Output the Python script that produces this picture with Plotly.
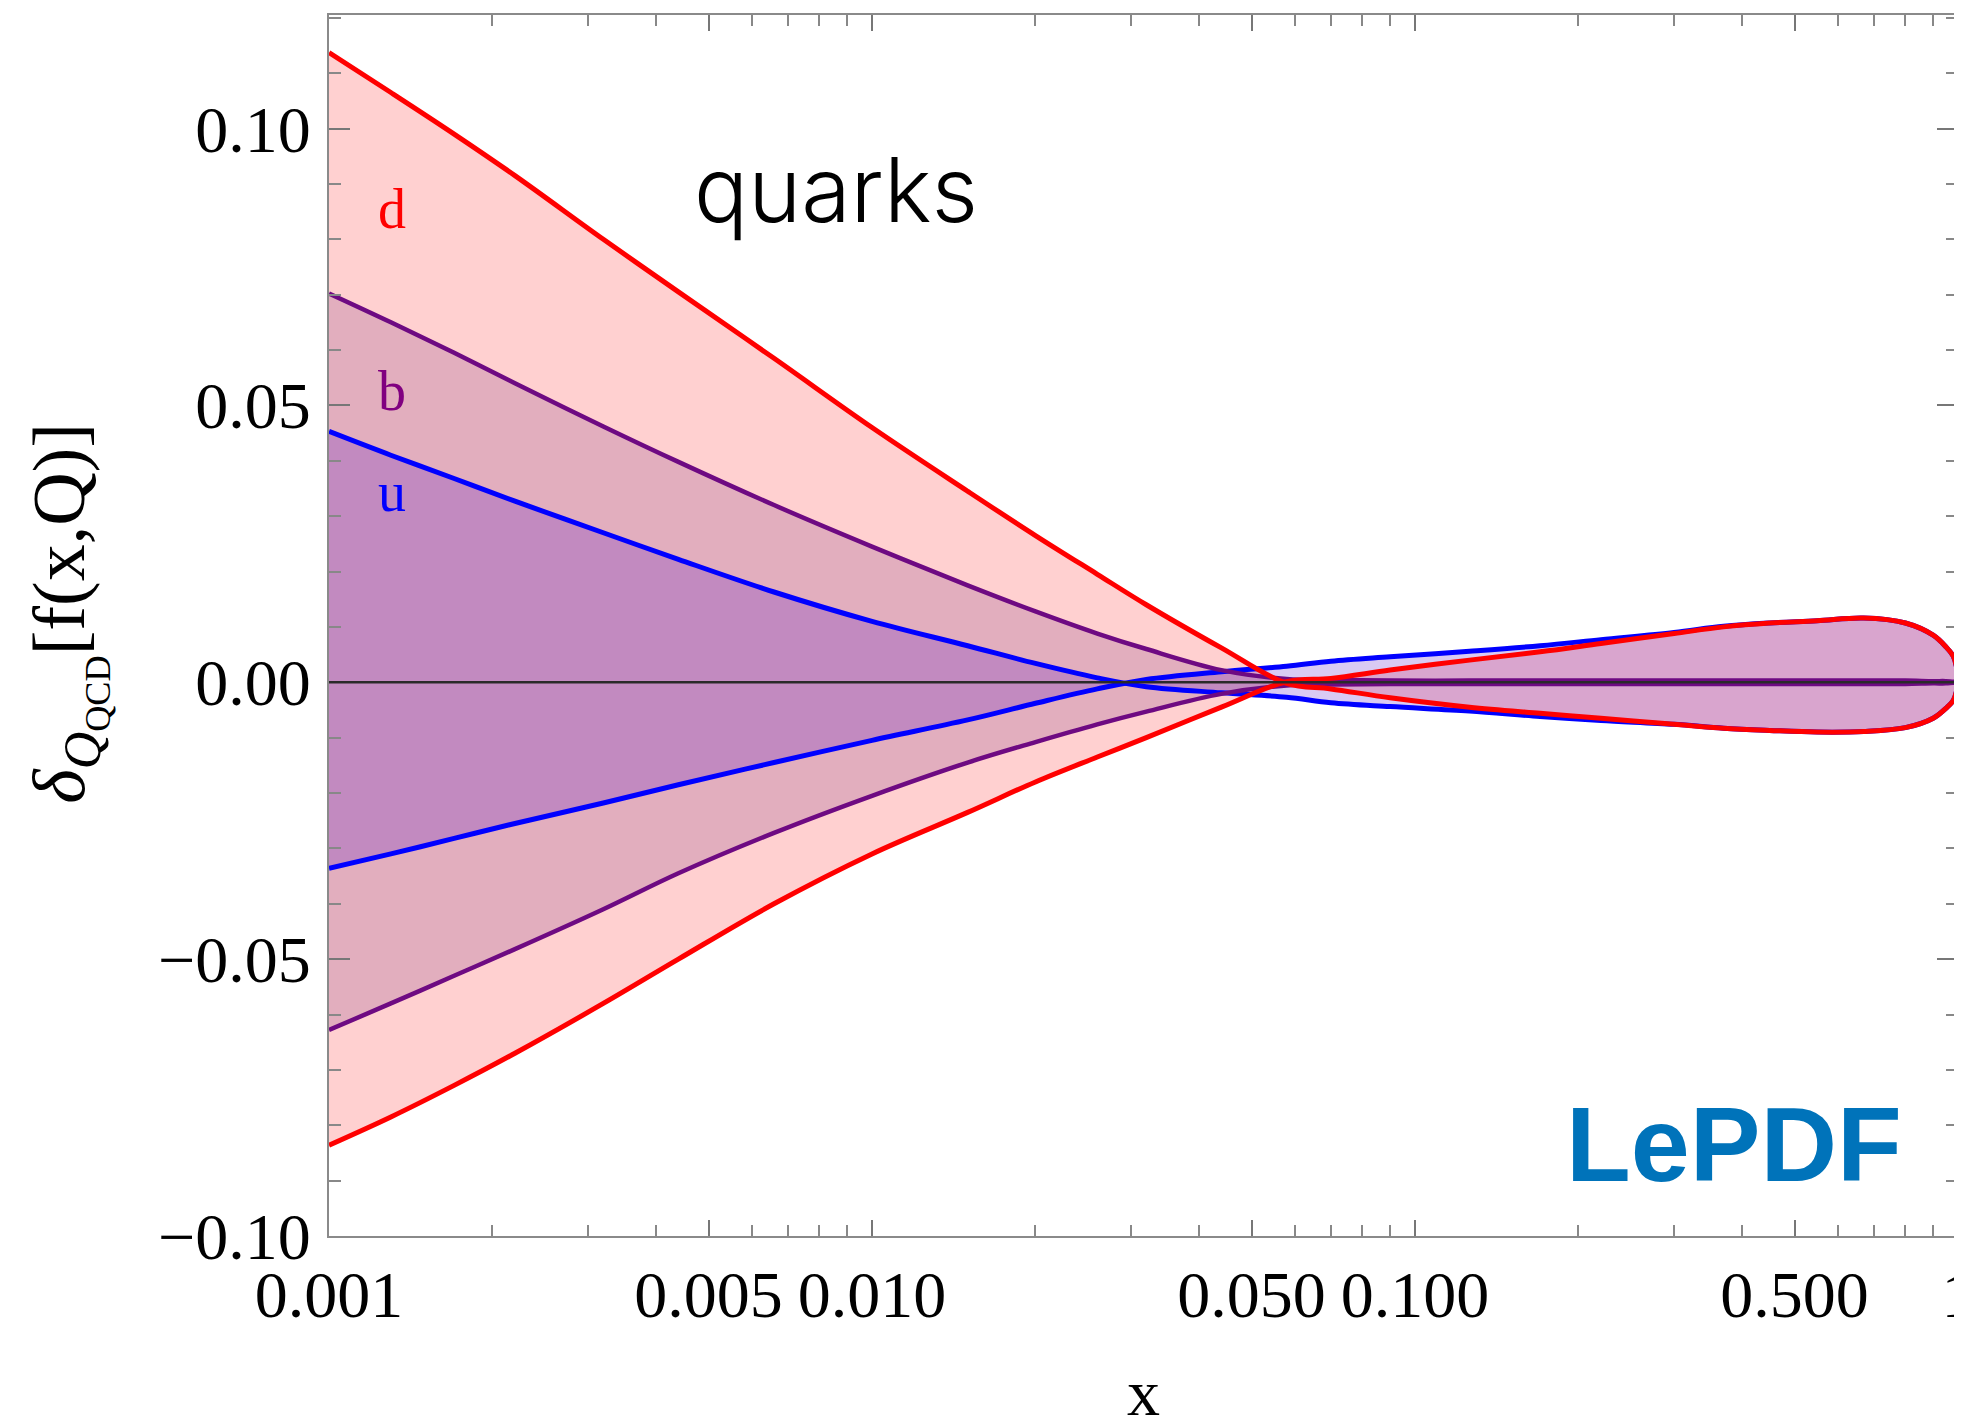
import plotly.graph_objects as go

# ---- data ----
x_vals = [0.001, 0.0013, 0.0017, 0.0022, 0.0032, 0.0044, 0.0066, 0.01, 0.015, 0.02,
          0.026, 0.032, 0.044, 0.058, 0.07, 0.09, 0.126, 0.17, 0.22, 0.3,
          0.37, 0.45, 0.55, 0.67, 0.8, 0.9, 0.95, 0.98, 0.995, 1.0]

d_upper = [0.1137, 0.1065, 0.0990, 0.0915, 0.0800, 0.0705, 0.0585, 0.0460, 0.0345, 0.0265,
           0.0195, 0.0140, 0.0062, -0.0002, -0.0012, -0.0028, -0.0045, -0.0056, -0.0065, -0.0076,
           -0.0083, -0.0087, -0.0090, -0.0089, -0.0082, -0.0065, -0.0047, -0.0033, -0.0014, 0.0]
d_lower = [-0.0836, -0.0785, -0.0728, -0.0670, -0.0580, -0.0500, -0.0400, -0.0310, -0.0235, -0.0180,
           -0.0135, -0.0100, -0.0045, 0.0001, 0.0007, 0.0022, 0.0040, 0.0055, 0.0070, 0.0088,
           0.0100, 0.0107, 0.0111, 0.0116, 0.0107, 0.0085, 0.0064, 0.0047, 0.0025, 0.0]
b_upper = [0.0702, 0.0650, 0.0595, 0.0540, 0.0462, 0.0398, 0.0320, 0.0245, 0.0175, 0.0128,
           0.0088, 0.0060, 0.0022, 0.0006, 0.0004, 0.0003, 0.0003, 0.0003, 0.0003, 0.0003,
           0.0003, 0.0003, 0.0003, 0.0003, 0.0003, 0.0002, 0.0002, 0.0001, 0.0001, 0.0]
b_lower = [-0.0628, -0.0580, -0.0530, -0.0482, -0.0410, -0.0345, -0.0272, -0.0205, -0.0145, -0.0108,
           -0.0076, -0.0053, -0.0021, -0.0006, -0.0004, -0.0003, -0.0003, -0.0003, -0.0003, -0.0003,
           -0.0003, -0.0003, -0.0003, -0.0003, -0.0003, -0.0002, -0.0002, -0.0001, -0.0001, 0.0]
u_upper = [0.0453, 0.0410, 0.0368, 0.0327, 0.0270, 0.0222, 0.0163, 0.0110, 0.0066, 0.0034,
           0.0008, -0.0008, -0.0019, -0.0027, -0.0037, -0.0044, -0.0052, -0.0062, -0.0069, -0.0076,
           -0.0083, -0.0087, -0.0090, -0.0089, -0.0082, -0.0065, -0.0047, -0.0033, -0.0014, 0.0]
u_lower = [-0.0336, -0.0310, -0.0282, -0.0255, -0.0218, -0.0185, -0.0145, -0.0105, -0.0068, -0.0038,
           -0.0012, 0.0005, 0.0019, 0.0029, 0.0038, 0.0046, 0.0056, 0.0066, 0.0077, 0.0090,
           0.0101, 0.0107, 0.0111, 0.0116, 0.0107, 0.0085, 0.0064, 0.0047, 0.0025, 0.0]

x_tickvals = [0.001, 0.005, 0.01, 0.05, 0.1, 0.5, 1]
x_ticktext = ["0.001", "0.005", "0.010", "0.050", "0.100", "0.500", "1"]
x_minor = [0.002, 0.003, 0.004, 0.006, 0.007, 0.008, 0.009,
           0.02, 0.03, 0.04, 0.06, 0.07, 0.08, 0.09,
           0.2, 0.3, 0.4, 0.6, 0.7, 0.8, 0.9]
y_tickvals = [-0.10, -0.05, 0.0, 0.05, 0.10]

# ---- styles ----
RED = "rgb(255,0,0)"
PURPLE = "rgb(110,10,130)"
BLUE = "rgb(0,0,255)"
FILL_RED = "rgba(255,0,0,0.185)"
FILL_PURPLE = "rgba(110,38,118,0.2)"
FILL_BLUE = "rgba(80,15,200,0.22)"
SERIF = "Liberation Serif, Times New Roman, serif"
SANS = "Liberation Sans, Arial, sans-serif"

fig = go.Figure()

# fills to the axis (layered: d, b, u)
for ys, fc in [(d_upper, FILL_RED), (d_lower, FILL_RED),
               (b_upper, FILL_PURPLE), (b_lower, FILL_PURPLE),
               (u_upper, FILL_BLUE), (u_lower, FILL_BLUE)]:
    fig.add_trace(go.Scatter(x=x_vals, y=ys, mode="lines", line=dict(width=0, shape="spline"),
                             fill="tozeroy", fillcolor=fc, hoverinfo="skip", showlegend=False))

# curve lines
for ys, lc, w in [(u_upper, BLUE, 5), (u_lower, BLUE, 5),
                  (b_upper, PURPLE, 4.5), (b_lower, PURPLE, 4.5),
                  (d_upper, RED, 5), (d_lower, RED, 5)]:
    fig.add_trace(go.Scatter(x=x_vals, y=ys, mode="lines", line=dict(color=lc, width=w, shape="spline"),
                             showlegend=False))

axis_col = "#8a8a8a"
fig.update_xaxes(type="log", range=[-3, 0], showgrid=False, zeroline=False, automargin=False,
                 showline=True, linecolor=axis_col, linewidth=2, mirror="ticks",
                 ticks="inside", ticklen=16, tickwidth=1.5, tickcolor="#777",
                 tickmode="array", tickvals=x_tickvals, ticktext=x_ticktext,
                 minor=dict(ticks="inside", ticklen=11, tickwidth=1.5, tickcolor="#888",
                            tickmode="array", tickvals=x_minor, showgrid=False),
                 tickfont=dict(family=SERIF, size=66, color="black"),
                 ticklabelstandoff=0, ticklabeloverflow="allow")
fig.update_yaxes(range=[-0.1, 0.1205], showgrid=False, zeroline=False, automargin=False,
                 showline=True, linecolor=axis_col, linewidth=2, mirror="ticks",
                 ticks="inside", ticklen=21, tickwidth=1.5, tickcolor="#777",
                 tickmode="array", tickvals=y_tickvals, tickformat=".2f",
                 minor=dict(ticks="inside", ticklen=12, tickwidth=1.5, tickcolor="#888",
                            dtick=0.01, showgrid=False),
                 tickfont=dict(family=SERIF, size=66, color="black"),
                 ticklabelstandoff=3)

# zero axis line (drawn above the fills)
fig.add_shape(type="line", xref="paper", x0=0, x1=1, yref="y", y0=0, y1=0,
              line=dict(color="#2a2a2a", width=2.5), layer="above")

def ann(text, x, y, xref, yref, font, angle=0):
    return dict(text=text, x=x, y=y, xref=xref, yref=yref, showarrow=False,
                xanchor="center", yanchor="middle", textangle=angle, font=font)

annotations = [
    ann("d", -2.884, 0.0854, "x", "y", dict(family=SERIF, size=56, color=RED)),
    ann("b", -2.884, 0.0526, "x", "y", dict(family=SERIF, size=56, color="rgb(128,0,128)")),
    ann("u", -2.884, 0.0343, "x", "y", dict(family=SERIF, size=56, color=BLUE)),
    ann("quarks", 0.311, 0.857, "paper", "paper",
        dict(family="Inter, Liberation Sans, Arial, sans-serif", size=90, color="black", weight=300)),
    ann("<b>LePDF</b>", 0.8625, 0.0754, "paper", "paper",
        dict(family=SANS, size=106, color="rgb(0,115,186)")),
    ann("x", 0.5, -0.128, "paper", "paper", dict(family=SERIF, size=66, color="black")),
    ann("<i>δ</i><sub><i>Q</i><sub>QCD</sub></sub>[f(x,Q)]", -0.160, 0.51, "paper", "paper",
        dict(family=SERIF, size=74, color="black"), angle=-90),
]

# the page body has an 8px margin, so the figure is 8px smaller and margins are shifted by 8px
fig.update_layout(width=1954, height=1420, margin=dict(l=321, r=4, t=7, b=192),
                  paper_bgcolor="white", plot_bgcolor="white", showlegend=False,
                  annotations=annotations)

fig.write_html("out.html")
